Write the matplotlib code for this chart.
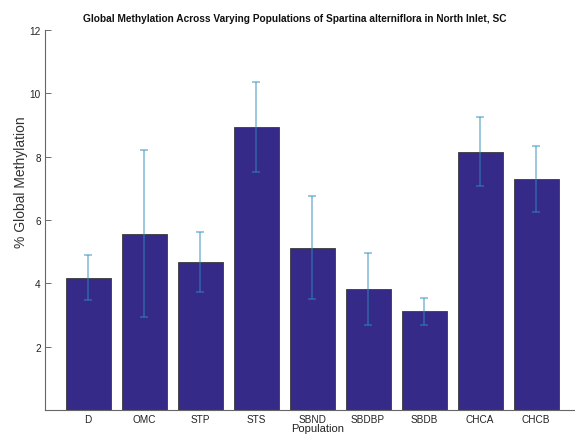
import numpy as np
import matplotlib
matplotlib.use('agg')
import matplotlib.pyplot as plt

plt.rcParams['font.family'] = ['Liberation Sans', 'DejaVu Sans']

# mean % global methylation and error for each population
populations = ['D', 'OMC', 'STP', 'STS', 'SBND', 'SBDBP', 'SBDB', 'CHCA', 'CHCB']
meanMeth = [4.18, 5.57, 4.68, 8.95, 5.13, 3.83, 3.12, 8.16, 7.29]
errMeth = [0.72, 2.63, 0.95, 1.42, 1.63, 1.13, 0.42, 1.10, 1.05]

W, H = 575, 435
fig = plt.figure(figsize=(W / 100, H / 100), dpi=100)

# axes placed in pixels: left 45, bottom at y=411, top at y=31
x0, yBot, yTop = 45, 411, 31
pxUnit = 56.0
xmin, xmax = 0.23, 9.9
ax = fig.add_axes([x0 / W, (H - yBot) / H, (xmax - xmin) * pxUnit / W, (yBot - yTop) / H])

xpos = np.arange(1, len(populations) + 1)
ax.bar(xpos, meanMeth, width=0.8, color='#352a87', edgecolor='#3a3a3a', linewidth=0.6, zorder=2)
ax.errorbar(xpos, meanMeth, yerr=errMeth, fmt='none', ecolor='#2b8cbe', alpha=0.6,
            elinewidth=1.1, capsize=3.2, capthick=1.1, zorder=3)

ax.set_xlim(xmin, xmax)
ax.set_ylim(0, 12)
ax.set_xticks(xpos)
ax.set_xticklabels(populations, fontsize=7.2, color='#222222')
ax.set_yticks(np.arange(2, 13, 2))
ax.set_yticklabels([str(v) for v in range(2, 13, 2)], fontsize=7.2, color='#222222')
ax.tick_params(axis='x', length=0, pad=3)
ax.tick_params(axis='y', direction='in', length=4, width=0.6, color='#555555', pad=3)

for side in ['top', 'right']:
    ax.spines[side].set_visible(False)
for side in ['left', 'bottom']:
    ax.spines[side].set_color('#666666')
    ax.spines[side].set_linewidth(0.8)

axW = (xmax - xmin) * pxUnit
ax.set_ylabel('% Global Methylation', fontsize=10, color='#333333', va='center')
ax.yaxis.set_label_coords((21 - x0) / axW, (yBot - 182) / (yBot - yTop))
ax.set_xlabel('Population', fontsize=8, color='#222222', va='center')
ax.xaxis.set_label_coords((318 - x0) / axW, -(429 - yBot) / (yBot - yTop))

fig.text(295 / W, 1 - 19 / H, 'Global Methylation Across Varying Populations of Spartina alterniflora in North Inlet, SC',
         fontsize=7.3, fontweight='bold', ha='center', va='center', color='#111111')

fig.savefig('out.png', dpi=100)
